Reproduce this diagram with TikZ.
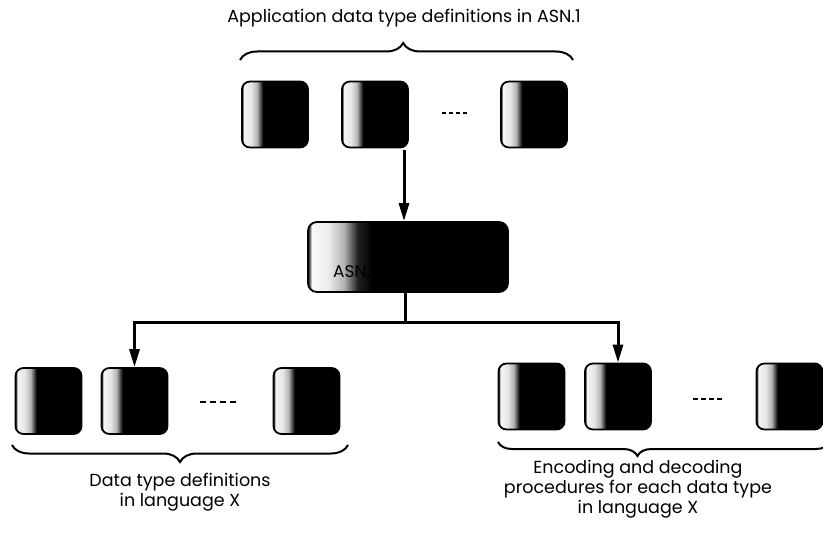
\documentclass[tikz,border=0pt]{standalone}
\usepackage{fontspec}
\setmainfont{Poppins}
\usetikzlibrary{arrows.meta,decorations.pathreplacing}

% light strip on the left of each block, fading to black
\pgfdeclarehorizontalshading{boxshade}{100bp}{color(0bp)=(black); color(25bp)=(black);
  color(26.5bp)=(white!92!gray); color(32bp)=(white!80!gray); color(36.5bp)=(gray!60);
  color(41bp)=(black); color(100bp)=(black)}
\pgfdeclarehorizontalshading{compshade}{100bp}{color(0bp)=(black); color(25bp)=(black);
  color(26bp)=(white!95!gray); color(30bp)=(white!85!gray); color(34bp)=(gray!60);
  color(37.5bp)=(gray!25!black); color(41bp)=(black); color(100bp)=(black)}

\tikzset{
  block/.style={draw=black, line width=1.8pt, rounded corners=8pt, shading=boxshade,
    minimum width=66pt, minimum height=66pt, inner sep=0pt},
  compiler/.style={draw=black, line width=1.8pt, rounded corners=9pt, shading=compshade,
    minimum width=200pt, minimum height=70pt, inner sep=0pt},
  flow/.style={line width=3pt, -{Triangle[length=18pt,width=10pt]}},
  trunk/.style={line width=3pt},
  bracket/.style={line width=2pt, decorate},
  ellip/.style={line width=1.6pt},
  caption/.style={font=\fontsize{17.5}{20}\selectfont, align=center, inner sep=0pt}
}

\begin{document}
\begin{tikzpicture}[x=1pt, y=-1pt]
\useasboundingbox (0,0) rectangle (823,543);
\clip (0,0) rectangle (823,543);

% ASN.1 definitions
\node[caption] (title) at (404,18) {Application data type definitions in ASN.1};
\draw[bracket, decoration={brace, amplitude=17pt, aspect=0.49}] (240,60) -- (573,60);
\node[block] (a1) at (275,114.5) {};
\node[block] (a2) at (375,114.5) {};
\node[block] (a3) at (534,114.5) {};
\draw[ellip, dash pattern=on 4pt off 3pt] (442,113) -- (467,113);

% compiler
\node[compiler] (comp) at (408,257) {};
\node[anchor=base west, inner sep=0pt, font=\fontsize{17}{20}\selectfont] (ctext) at (333,277) {ASN.1 compiler};
\coordinate (src) at (404,150);
\draw[flow] (src) -- (src |- comp.north);

% outputs
\node[block] (l1) at (48.5,401) {};
\node[block] (l2) at (134.5,401) {};
\node[block] (l3) at (306.5,401) {};
\draw[ellip, dash pattern=on 5.5pt off 4.5pt] (200,402) -- (235.5,402);

\node[block] (r1) at (531.5,396.5) {};
\node[block] (r2) at (618,396.5) {};
\node[block] (r3) at (789.5,396.5) {};
\draw[ellip, dash pattern=on 4.5pt off 3.5pt] (693,399) -- (722,399);

\coordinate (split) at (405,322);
\draw[trunk] (comp.south -| split) -- (split);
\draw[flow] (split) -| (l2.north);
\draw[flow] (split) -| (r2.north);

\draw[bracket, decoration={brace, mirror, amplitude=17pt, aspect=0.5}] (12,445) -- (348,445);
\node[caption] (ldesc) at (180,492) {Data type definitions\\in language X};

\draw[bracket, decoration={brace, mirror, amplitude=14pt, aspect=0.42}] (498,442) -- (830,442);
\node[caption] (rdesc) at (638,489) {Encoding and decoding\\procedures for each data type\\in language X};
\end{tikzpicture}
\end{document}
